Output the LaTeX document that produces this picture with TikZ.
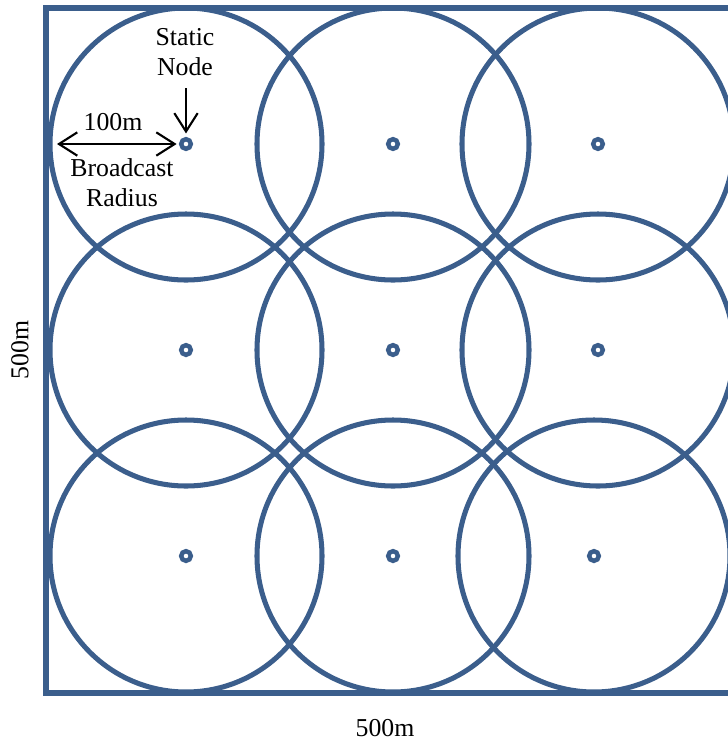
\documentclass[tikz,border=0pt]{standalone}
\usepackage{fontspec}
\setmainfont{Liberation Serif}
\usetikzlibrary{arrows.meta}
\definecolor{netblue}{RGB}{59,94,140}
\tikzset{
  area/.style={netblue, line width=4.3pt},
  sta/.style={circle, draw=netblue, line width=3.8pt, inner sep=0pt, minimum size=0.29cm},
  netbarb/.tip={Straight Barb[length=0.55cm,width=0.7cm,line width=1.8pt]},
  ptr/.style={black, line width=1.8pt, -netbarb},
  lbl/.style={font=\fontsize{22}{25.5}\selectfont, align=center, inner sep=0pt}
}
\begin{document}
\begin{tikzpicture}[x=0.03cm, y=-0.03cm]
    \useasboundingbox (0,0) rectangle (728,742);
    \clip (0,0) rectangle (728,742);

    % area
    \draw[area] (46,8) rectangle (731,693);

    % static nodes and broadcast circles
    \foreach \x/\y [count=\i] in {186/144, 393/144, 598/144, 186/350, 393/350, 598/350, 186/556, 393/556, 594/556} {
        \node[sta] (s\i) at (\x,\y) {};
        \draw[area] (s\i.center) circle (136);
    }

    % labels
    \node[lbl] (static) at (185,52) {Static\\Node};
    \node[lbl] (range) at (113,122) {100m};
    \node[lbl] (radius) at (122,183) {Broadcast\\Radius};
    \node[lbl] (width) at (385,728) {500m};
    \node[lbl, rotate=90] (height) at (20,350) {500m};

    % arrows
    \coordinate (top) at (186,88);
    \coordinate (edge) at (57,144);
    \draw[ptr, shorten >=3pt] (top) -- (s1);
    \draw[ptr, netbarb-netbarb, shorten >=2pt] (edge) -- (s1);
\end{tikzpicture}
\end{document}
